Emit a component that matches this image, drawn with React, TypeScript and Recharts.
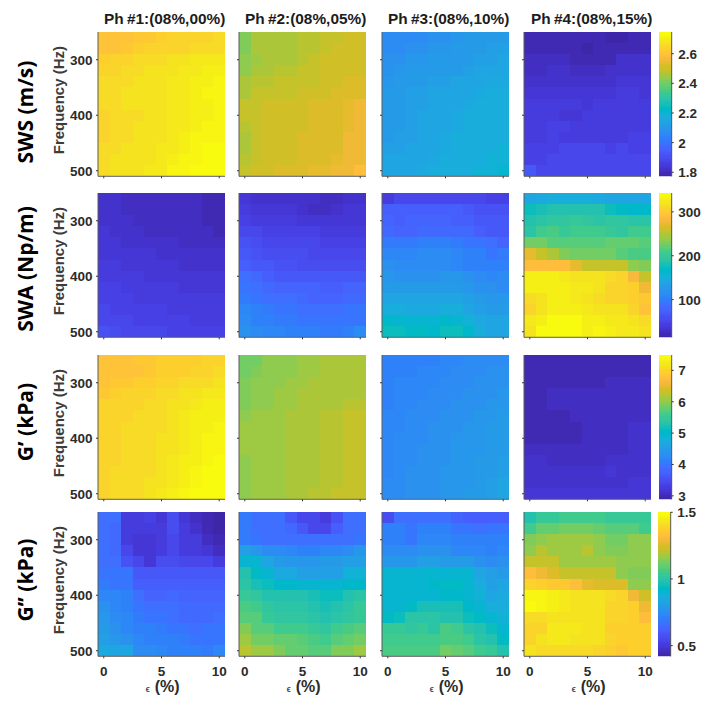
import React from 'react';
import { ScatterChart, Scatter, XAxis, YAxis, Label } from 'recharts';

// axes shared by all panels
const strains = [0, 1, 2, 3, 4, 5, 6, 7, 8, 9, 10];
const frequencies = [260, 280, 300, 320, 340, 360, 380, 400, 420, 440, 460, 480, 500];
const strainTicks = [0, 5, 10];
const freqTicks = [300, 400, 500];

const titles = ['Ph #1:(08%,00%)', 'Ph #2:(08%,05%)', 'Ph #3:(08%,10%)', 'Ph #4:(08%,15%)'];
const rowLabels = ['SWS (m/s)', 'SWA (Np/m)', 'G’ (kPa)', 'G’’ (kPa)'];

// colour limits + colorbar ticks per row
const limits = [[1.773, 2.746], [14, 343], [2.89, 7.49], [0.42, 1.502]];
const barTicks = [[1.8, 2, 2.2, 2.4, 2.6], [100, 200, 300], [3, 4, 5, 6, 7], [0.5, 1, 1.5]];

// SWS (m/s)
const swsPh1 = [
  [2.60, 2.60, 2.60, 2.61, 2.61, 2.63, 2.64, 2.65, 2.65, 2.65, 2.66],
  [2.60, 2.60, 2.61, 2.63, 2.64, 2.64, 2.65, 2.65, 2.66, 2.66, 2.66],
  [2.63, 2.64, 2.65, 2.66, 2.66, 2.66, 2.67, 2.68, 2.69, 2.69, 2.69],
  [2.64, 2.65, 2.66, 2.66, 2.67, 2.67, 2.68, 2.69, 2.70, 2.71, 2.71],
  [2.66, 2.66, 2.66, 2.67, 2.67, 2.68, 2.69, 2.70, 2.71, 2.71, 2.72],
  [2.66, 2.66, 2.67, 2.67, 2.67, 2.68, 2.69, 2.70, 2.71, 2.72, 2.72],
  [2.66, 2.66, 2.67, 2.67, 2.68, 2.68, 2.69, 2.70, 2.71, 2.71, 2.72],
  [2.65, 2.66, 2.66, 2.66, 2.67, 2.68, 2.69, 2.70, 2.71, 2.71, 2.72],
  [2.65, 2.66, 2.66, 2.67, 2.67, 2.68, 2.69, 2.70, 2.71, 2.72, 2.73],
  [2.65, 2.66, 2.66, 2.67, 2.67, 2.68, 2.70, 2.71, 2.72, 2.73, 2.73],
  [2.66, 2.66, 2.67, 2.67, 2.68, 2.69, 2.70, 2.71, 2.72, 2.74, 2.74],
  [2.66, 2.67, 2.67, 2.68, 2.68, 2.69, 2.71, 2.72, 2.73, 2.74, 2.745],
  [2.66, 2.67, 2.67, 2.68, 2.69, 2.70, 2.72, 2.73, 2.74, 2.745, 2.745],
];
const swsPh2 = [
  [2.42, 2.46, 2.46, 2.46, 2.46, 2.48, 2.48, 2.50, 2.50, 2.51, 2.51],
  [2.42, 2.46, 2.46, 2.46, 2.47, 2.48, 2.48, 2.49, 2.51, 2.51, 2.51],
  [2.44, 2.45, 2.46, 2.46, 2.47, 2.48, 2.49, 2.51, 2.51, 2.51, 2.51],
  [2.44, 2.46, 2.47, 2.48, 2.48, 2.49, 2.49, 2.51, 2.51, 2.51, 2.51],
  [2.46, 2.48, 2.48, 2.49, 2.49, 2.50, 2.50, 2.51, 2.51, 2.52, 2.52],
  [2.47, 2.49, 2.49, 2.50, 2.50, 2.51, 2.51, 2.51, 2.52, 2.53, 2.53],
  [2.49, 2.50, 2.51, 2.51, 2.51, 2.51, 2.52, 2.52, 2.52, 2.54, 2.55],
  [2.49, 2.50, 2.51, 2.51, 2.51, 2.51, 2.52, 2.52, 2.52, 2.54, 2.55],
  [2.48, 2.50, 2.51, 2.51, 2.51, 2.51, 2.52, 2.52, 2.53, 2.54, 2.55],
  [2.47, 2.50, 2.51, 2.51, 2.51, 2.52, 2.52, 2.52, 2.53, 2.55, 2.55],
  [2.47, 2.50, 2.51, 2.51, 2.51, 2.52, 2.52, 2.52, 2.53, 2.55, 2.56],
  [2.48, 2.50, 2.51, 2.51, 2.51, 2.52, 2.52, 2.53, 2.54, 2.55, 2.56],
  [2.50, 2.51, 2.51, 2.52, 2.52, 2.53, 2.54, 2.54, 2.55, 2.56, 2.58],
];
const swsPh3 = [
  [2.07, 2.07, 2.07, 2.07, 2.09, 2.09, 2.10, 2.11, 2.12, 2.12, 2.12],
  [2.07, 2.07, 2.08, 2.09, 2.10, 2.10, 2.11, 2.12, 2.12, 2.13, 2.13],
  [2.08, 2.09, 2.10, 2.10, 2.11, 2.11, 2.12, 2.12, 2.13, 2.13, 2.14],
  [2.09, 2.10, 2.11, 2.11, 2.12, 2.12, 2.12, 2.13, 2.14, 2.14, 2.15],
  [2.10, 2.11, 2.12, 2.12, 2.13, 2.13, 2.14, 2.14, 2.15, 2.16, 2.16],
  [2.11, 2.12, 2.13, 2.13, 2.14, 2.14, 2.15, 2.15, 2.16, 2.17, 2.17],
  [2.11, 2.12, 2.13, 2.13, 2.14, 2.15, 2.15, 2.16, 2.17, 2.17, 2.18],
  [2.11, 2.12, 2.13, 2.14, 2.14, 2.15, 2.16, 2.17, 2.17, 2.18, 2.18],
  [2.12, 2.12, 2.13, 2.14, 2.15, 2.15, 2.16, 2.17, 2.18, 2.18, 2.18],
  [2.12, 2.13, 2.13, 2.14, 2.15, 2.16, 2.17, 2.17, 2.18, 2.18, 2.18],
  [2.13, 2.13, 2.14, 2.15, 2.15, 2.16, 2.17, 2.18, 2.18, 2.18, 2.19],
  [2.14, 2.14, 2.15, 2.15, 2.16, 2.17, 2.18, 2.18, 2.18, 2.19, 2.19],
  [2.14, 2.14, 2.15, 2.16, 2.17, 2.17, 2.18, 2.18, 2.19, 2.19, 2.21],
];
const swsPh4 = [
  [1.79, 1.79, 1.79, 1.79, 1.79, 1.79, 1.79, 1.78, 1.78, 1.79, 1.79],
  [1.79, 1.79, 1.79, 1.79, 1.80, 1.78, 1.79, 1.79, 1.80, 1.80, 1.80],
  [1.81, 1.81, 1.81, 1.81, 1.80, 1.80, 1.80, 1.80, 1.82, 1.82, 1.82],
  [1.81, 1.81, 1.82, 1.83, 1.81, 1.81, 1.81, 1.82, 1.83, 1.83, 1.83],
  [1.82, 1.82, 1.83, 1.82, 1.83, 1.82, 1.82, 1.83, 1.84, 1.84, 1.84],
  [1.84, 1.84, 1.84, 1.84, 1.84, 1.84, 1.84, 1.84, 1.85, 1.85, 1.84],
  [1.85, 1.85, 1.85, 1.85, 1.85, 1.84, 1.85, 1.85, 1.85, 1.86, 1.86],
  [1.85, 1.85, 1.85, 1.84, 1.84, 1.85, 1.85, 1.86, 1.86, 1.86, 1.86],
  [1.86, 1.85, 1.87, 1.87, 1.85, 1.85, 1.85, 1.85, 1.86, 1.86, 1.86],
  [1.86, 1.85, 1.87, 1.86, 1.86, 1.86, 1.86, 1.86, 1.86, 1.87, 1.87],
  [1.87, 1.87, 1.87, 1.88, 1.88, 1.88, 1.88, 1.87, 1.88, 1.87, 1.87],
  [1.87, 1.87, 1.89, 1.88, 1.88, 1.88, 1.88, 1.88, 1.88, 1.88, 1.88],
  [1.93, 1.88, 1.88, 1.88, 1.88, 1.88, 1.88, 1.88, 1.88, 1.88, 1.89],
];

// SWA (Np/m)
const swaPh1 = [
  [31, 30, 29, 29, 28, 27, 27, 26, 25, 24, 24],
  [32, 30, 29, 28, 28, 27, 27, 26, 25, 24, 23],
  [33, 31, 30, 29, 28, 27, 27, 26, 25, 24, 21],
  [35, 33, 32, 30, 29, 28, 28, 27, 26, 25, 24],
  [37, 35, 34, 33, 32, 31, 30, 29, 28, 28, 27],
  [39, 38, 36, 36, 35, 34, 33, 32, 31, 31, 31],
  [41, 40, 39, 38, 37, 36, 35, 34, 33, 33, 32],
  [43, 42, 41, 40, 39, 38, 37, 36, 36, 35, 35],
  [46, 45, 44, 42, 42, 41, 40, 39, 38, 37, 37],
  [48, 47, 46, 44, 44, 43, 42, 42, 40, 40, 40],
  [51, 49, 48, 47, 46, 45, 44, 44, 42, 42, 42],
  [55, 52, 50, 49, 48, 47, 46, 46, 44, 44, 44],
  [62, 58, 55, 53, 52, 50, 48, 47, 47, 46, 46],
];
const swaPh2 = [
  [38, 34, 33, 33, 33, 30, 30, 27, 29, 32, 32],
  [42, 37, 35, 35, 35, 31, 27, 27, 33, 35, 35],
  [46, 42, 40, 40, 40, 38, 37, 37, 38, 38, 38],
  [52, 50, 46, 46, 46, 45, 45, 44, 44, 44, 43],
  [62, 56, 52, 52, 52, 50, 50, 47, 47, 47, 47],
  [68, 62, 60, 56, 56, 56, 54, 52, 52, 55, 55],
  [74, 68, 66, 64, 62, 60, 60, 60, 58, 60, 60],
  [90, 84, 72, 70, 70, 68, 68, 66, 66, 66, 70],
  [95, 90, 84, 80, 78, 76, 76, 72, 72, 80, 80],
  [100, 96, 90, 88, 86, 82, 80, 76, 80, 84, 84],
  [108, 104, 98, 96, 92, 90, 88, 86, 90, 92, 96],
  [112, 106, 102, 100, 100, 96, 92, 92, 94, 96, 96],
  [118, 112, 108, 108, 104, 104, 104, 100, 100, 106, 112],
];
const swaPh3 = [
  [44, 55, 55, 55, 55, 55, 55, 50, 50, 48, 48],
  [72, 72, 72, 72, 72, 72, 72, 70, 62, 62, 62],
  [76, 72, 76, 76, 76, 76, 74, 74, 66, 66, 66],
  [85, 76, 76, 85, 85, 85, 85, 85, 74, 70, 70],
  [100, 100, 100, 102, 102, 102, 98, 94, 94, 86, 80],
  [110, 110, 110, 112, 112, 112, 108, 104, 104, 96, 100],
  [118, 112, 112, 114, 114, 114, 110, 106, 106, 102, 106],
  [122, 118, 118, 118, 118, 124, 126, 120, 116, 108, 114],
  [128, 128, 132, 132, 132, 130, 130, 126, 120, 118, 116],
  [138, 138, 138, 142, 142, 142, 138, 134, 130, 126, 126],
  [148, 148, 146, 146, 146, 150, 148, 142, 136, 132, 132],
  [164, 162, 162, 162, 158, 166, 162, 154, 146, 138, 138],
  [178, 176, 170, 170, 166, 178, 174, 166, 152, 142, 140],
];
const swaPh4 = [
  [142, 146, 150, 150, 150, 148, 146, 140, 140, 142, 142],
  [178, 182, 186, 186, 188, 186, 184, 178, 172, 168, 168],
  [186, 192, 196, 196, 200, 198, 192, 194, 194, 190, 190],
  [190, 208, 210, 204, 206, 206, 206, 200, 198, 208, 208],
  [226, 226, 218, 218, 218, 218, 218, 222, 222, 220, 216],
  [274, 258, 250, 232, 226, 226, 226, 226, 218, 214, 210],
  [290, 288, 288, 288, 272, 258, 258, 258, 258, 236, 234],
  [330, 332, 330, 326, 322, 322, 318, 314, 310, 282, 258],
  [330, 332, 332, 328, 326, 324, 318, 312, 310, 304, 280],
  [315, 322, 328, 328, 324, 322, 316, 312, 310, 304, 298],
  [312, 318, 330, 332, 330, 326, 320, 320, 318, 310, 296],
  [325, 330, 338, 340, 340, 332, 330, 326, 326, 322, 316],
  [322, 338, 338, 340, 340, 332, 336, 328, 326, 326, 318],
];

// G' (kPa)
const gpPh1 = [
  [6.80, 6.82, 6.84, 6.86, 6.88, 6.92, 6.94, 6.96, 6.98, 7.00, 7.02],
  [6.80, 6.80, 6.82, 6.84, 6.88, 6.92, 6.96, 6.98, 7.00, 7.02, 7.06],
  [6.84, 6.88, 6.90, 6.92, 6.96, 7.00, 7.04, 7.06, 7.10, 7.12, 7.14],
  [6.90, 6.96, 7.00, 7.02, 7.04, 7.06, 7.10, 7.14, 7.18, 7.24, 7.26],
  [7.00, 7.02, 7.04, 7.04, 7.06, 7.08, 7.14, 7.18, 7.24, 7.30, 7.32],
  [7.02, 7.02, 7.04, 7.06, 7.08, 7.12, 7.16, 7.22, 7.28, 7.32, 7.34],
  [7.02, 7.04, 7.06, 7.06, 7.10, 7.12, 7.16, 7.22, 7.30, 7.34, 7.36],
  [7.04, 7.04, 7.06, 7.08, 7.10, 7.14, 7.18, 7.24, 7.30, 7.36, 7.38],
  [7.04, 7.04, 7.06, 7.08, 7.12, 7.14, 7.20, 7.26, 7.32, 7.38, 7.40],
  [7.04, 7.04, 7.06, 7.08, 7.12, 7.16, 7.22, 7.28, 7.34, 7.40, 7.42],
  [7.04, 7.06, 7.08, 7.10, 7.12, 7.18, 7.24, 7.30, 7.36, 7.42, 7.44],
  [7.02, 7.06, 7.08, 7.10, 7.14, 7.20, 7.26, 7.34, 7.40, 7.46, 7.48],
  [7.04, 7.06, 7.08, 7.12, 7.16, 7.22, 7.30, 7.36, 7.42, 7.48, 7.485],
];
const gpPh2 = [
  [5.88, 5.90, 6.00, 6.00, 6.00, 6.06, 6.06, 6.14, 6.14, 6.17, 6.17],
  [5.90, 5.98, 6.00, 6.00, 6.04, 6.06, 6.06, 6.14, 6.14, 6.17, 6.17],
  [5.96, 6.00, 6.00, 6.03, 6.07, 6.07, 6.14, 6.14, 6.16, 6.18, 6.18],
  [5.97, 6.00, 6.00, 6.06, 6.10, 6.14, 6.16, 6.16, 6.18, 6.19, 6.19],
  [5.97, 6.02, 6.05, 6.06, 6.11, 6.14, 6.17, 6.18, 6.19, 6.21, 6.25],
  [6.05, 6.06, 6.06, 6.11, 6.13, 6.15, 6.18, 6.20, 6.22, 6.29, 6.29],
  [6.06, 6.08, 6.11, 6.12, 6.13, 6.17, 6.18, 6.22, 6.24, 6.31, 6.32],
  [6.06, 6.08, 6.12, 6.12, 6.13, 6.17, 6.18, 6.22, 6.24, 6.32, 6.32],
  [6.06, 6.08, 6.12, 6.12, 6.13, 6.17, 6.18, 6.22, 6.24, 6.32, 6.32],
  [6.05, 6.10, 6.12, 6.12, 6.13, 6.17, 6.18, 6.22, 6.24, 6.32, 6.32],
  [6.05, 6.10, 6.12, 6.12, 6.13, 6.17, 6.18, 6.22, 6.24, 6.32, 6.33],
  [6.05, 6.10, 6.12, 6.12, 6.13, 6.17, 6.18, 6.22, 6.24, 6.32, 6.33],
  [6.05, 6.10, 6.12, 6.12, 6.13, 6.18, 6.24, 6.26, 6.28, 6.33, 6.33],
];
const gpPh3 = [
  [4.12, 4.12, 4.12, 4.15, 4.17, 4.22, 4.22, 4.27, 4.29, 4.32, 4.32],
  [4.12, 4.15, 4.17, 4.19, 4.22, 4.24, 4.27, 4.29, 4.32, 4.35, 4.35],
  [4.12, 4.19, 4.20, 4.22, 4.24, 4.27, 4.29, 4.32, 4.35, 4.37, 4.37],
  [4.15, 4.20, 4.22, 4.24, 4.27, 4.29, 4.32, 4.35, 4.37, 4.39, 4.41],
  [4.17, 4.21, 4.24, 4.27, 4.29, 4.31, 4.34, 4.37, 4.39, 4.43, 4.45],
  [4.19, 4.24, 4.27, 4.29, 4.31, 4.33, 4.37, 4.39, 4.43, 4.47, 4.49],
  [4.20, 4.25, 4.29, 4.31, 4.33, 4.37, 4.39, 4.42, 4.45, 4.49, 4.51],
  [4.22, 4.27, 4.30, 4.32, 4.35, 4.37, 4.40, 4.43, 4.47, 4.49, 4.52],
  [4.22, 4.27, 4.32, 4.34, 4.37, 4.39, 4.42, 4.45, 4.47, 4.51, 4.53],
  [4.23, 4.29, 4.32, 4.35, 4.37, 4.39, 4.42, 4.45, 4.49, 4.52, 4.55],
  [4.25, 4.29, 4.33, 4.35, 4.37, 4.41, 4.43, 4.47, 4.49, 4.53, 4.57],
  [4.27, 4.31, 4.33, 4.37, 4.39, 4.41, 4.45, 4.47, 4.51, 4.57, 4.62],
  [4.27, 4.31, 4.35, 4.37, 4.39, 4.43, 4.45, 4.49, 4.53, 4.59, 4.67],
];
const gpPh4 = [
  [2.99, 2.99, 2.99, 2.99, 2.99, 2.99, 2.99, 2.99, 2.99, 2.99, 2.99],
  [3.00, 3.00, 3.00, 3.00, 3.00, 3.00, 3.00, 3.00, 3.00, 3.00, 3.00],
  [3.00, 3.00, 3.00, 3.00, 3.00, 3.00, 3.00, 3.05, 3.05, 3.05, 3.05],
  [3.01, 3.01, 3.07, 3.08, 3.08, 3.08, 3.08, 3.08, 3.07, 3.07, 3.07],
  [3.01, 3.01, 3.07, 3.08, 3.08, 3.08, 3.08, 3.08, 3.08, 3.08, 3.08],
  [3.01, 3.01, 3.01, 3.01, 3.07, 3.07, 3.07, 3.07, 3.08, 3.09, 3.09],
  [3.00, 3.00, 3.00, 3.00, 3.01, 3.06, 3.06, 3.06, 3.08, 3.12, 3.12],
  [3.00, 3.00, 3.00, 3.00, 3.00, 3.05, 3.06, 3.06, 3.08, 3.12, 3.12],
  [3.05, 3.05, 3.05, 3.05, 3.05, 3.05, 3.05, 3.05, 3.09, 3.11, 3.12],
  [3.14, 3.14, 3.10, 3.10, 3.10, 3.10, 3.10, 3.12, 3.12, 3.12, 3.12],
  [3.17, 3.14, 3.14, 3.14, 3.14, 3.14, 3.14, 3.19, 3.14, 3.15, 3.15],
  [3.17, 3.17, 3.17, 3.17, 3.17, 3.17, 3.17, 3.17, 3.17, 3.19, 3.19],
  [3.18, 3.18, 3.18, 3.18, 3.18, 3.18, 3.18, 3.22, 3.22, 3.22, 3.22],
];

// G'' (kPa)
const gppPh1 = [
  [0.66, 0.66, 0.52, 0.52, 0.53, 0.50, 0.56, 0.49, 0.46, 0.44, 0.42],
  [0.67, 0.65, 0.52, 0.51, 0.52, 0.52, 0.56, 0.51, 0.48, 0.44, 0.43],
  [0.67, 0.65, 0.52, 0.50, 0.50, 0.52, 0.54, 0.52, 0.52, 0.47, 0.45],
  [0.67, 0.65, 0.54, 0.50, 0.50, 0.51, 0.54, 0.52, 0.51, 0.49, 0.46],
  [0.67, 0.66, 0.58, 0.54, 0.50, 0.56, 0.56, 0.54, 0.54, 0.54, 0.52],
  [0.69, 0.68, 0.68, 0.59, 0.59, 0.59, 0.59, 0.59, 0.59, 0.59, 0.59],
  [0.70, 0.69, 0.68, 0.62, 0.62, 0.62, 0.62, 0.61, 0.61, 0.61, 0.61],
  [0.74, 0.74, 0.71, 0.66, 0.63, 0.63, 0.64, 0.63, 0.63, 0.63, 0.63],
  [0.77, 0.74, 0.71, 0.69, 0.67, 0.67, 0.66, 0.65, 0.64, 0.64, 0.64],
  [0.78, 0.75, 0.73, 0.70, 0.69, 0.68, 0.66, 0.64, 0.64, 0.64, 0.66],
  [0.80, 0.77, 0.74, 0.72, 0.71, 0.70, 0.69, 0.68, 0.67, 0.68, 0.68],
  [0.81, 0.79, 0.77, 0.73, 0.71, 0.71, 0.71, 0.70, 0.69, 0.69, 0.69],
  [0.85, 0.84, 0.84, 0.75, 0.75, 0.73, 0.71, 0.71, 0.71, 0.70, 0.73],
];
const gppPh2 = [
  [0.70, 0.67, 0.66, 0.66, 0.60, 0.55, 0.55, 0.52, 0.58, 0.66, 0.66],
  [0.70, 0.67, 0.66, 0.66, 0.65, 0.60, 0.54, 0.54, 0.62, 0.66, 0.66],
  [0.70, 0.69, 0.66, 0.66, 0.66, 0.66, 0.66, 0.66, 0.66, 0.67, 0.69],
  [0.82, 0.79, 0.75, 0.75, 0.74, 0.72, 0.72, 0.74, 0.74, 0.75, 0.78],
  [0.91, 0.90, 0.83, 0.80, 0.78, 0.78, 0.78, 0.80, 0.80, 0.82, 0.82],
  [0.98, 0.94, 0.90, 0.85, 0.85, 0.82, 0.82, 0.82, 0.82, 0.88, 0.88],
  [1.00, 0.97, 0.95, 0.92, 0.92, 0.90, 0.90, 0.90, 0.90, 0.92, 0.92],
  [1.04, 1.02, 0.99, 0.99, 0.98, 0.98, 0.97, 0.95, 0.96, 0.98, 1.00],
  [1.07, 1.05, 1.02, 1.01, 1.01, 1.01, 0.99, 0.97, 0.99, 1.01, 1.03],
  [1.09, 1.08, 1.04, 1.02, 1.02, 1.02, 1.01, 0.99, 1.01, 1.02, 1.04],
  [1.14, 1.08, 1.08, 1.06, 1.06, 1.06, 1.04, 1.02, 1.05, 1.07, 1.08],
  [1.17, 1.13, 1.13, 1.11, 1.11, 1.08, 1.07, 1.05, 1.08, 1.10, 1.12],
  [1.20, 1.18, 1.18, 1.14, 1.11, 1.11, 1.09, 1.09, 1.14, 1.14, 1.18],
];
const gppPh3 = [
  [0.57, 0.67, 0.67, 0.67, 0.67, 0.67, 0.63, 0.62, 0.62, 0.62, 0.62],
  [0.71, 0.71, 0.68, 0.71, 0.71, 0.71, 0.69, 0.69, 0.67, 0.69, 0.69],
  [0.72, 0.72, 0.69, 0.73, 0.73, 0.73, 0.71, 0.71, 0.71, 0.71, 0.71],
  [0.75, 0.75, 0.75, 0.76, 0.76, 0.76, 0.73, 0.73, 0.73, 0.71, 0.73],
  [0.78, 0.78, 0.78, 0.81, 0.81, 0.80, 0.80, 0.80, 0.76, 0.75, 0.77],
  [0.90, 0.90, 0.90, 0.90, 0.90, 0.90, 0.90, 0.90, 0.83, 0.81, 0.80],
  [0.91, 0.90, 0.90, 0.90, 0.92, 0.93, 0.93, 0.90, 0.87, 0.82, 0.83],
  [0.91, 0.90, 0.91, 0.91, 0.90, 0.92, 0.92, 0.90, 0.89, 0.83, 0.85],
  [0.90, 0.90, 0.93, 0.97, 0.97, 0.97, 0.97, 0.92, 0.91, 0.87, 0.87],
  [0.93, 0.95, 1.00, 1.00, 1.00, 0.98, 0.98, 0.96, 0.93, 0.91, 0.89],
  [1.04, 1.04, 1.02, 1.03, 1.01, 1.07, 1.05, 1.01, 0.99, 0.96, 0.91],
  [1.06, 1.06, 1.06, 1.06, 1.06, 1.07, 1.07, 1.05, 1.01, 0.98, 0.93],
  [1.07, 1.07, 1.07, 1.07, 1.07, 1.13, 1.10, 1.09, 1.05, 1.03, 0.99],
];
const gppPh4 = [
  [0.99, 1.03, 1.04, 1.05, 1.06, 1.06, 1.06, 1.03, 1.03, 1.03, 1.03],
  [1.05, 1.11, 1.11, 1.13, 1.13, 1.13, 1.11, 1.08, 1.08, 1.08, 1.06],
  [1.14, 1.15, 1.17, 1.17, 1.17, 1.17, 1.15, 1.13, 1.13, 1.15, 1.15],
  [1.15, 1.20, 1.17, 1.17, 1.17, 1.20, 1.16, 1.14, 1.14, 1.16, 1.16],
  [1.23, 1.23, 1.23, 1.18, 1.18, 1.18, 1.18, 1.17, 1.15, 1.16, 1.16],
  [1.33, 1.29, 1.26, 1.22, 1.22, 1.22, 1.22, 1.22, 1.15, 1.14, 1.14],
  [1.39, 1.37, 1.35, 1.35, 1.32, 1.27, 1.26, 1.26, 1.26, 1.15, 1.15],
  [1.48, 1.47, 1.46, 1.44, 1.43, 1.43, 1.42, 1.41, 1.40, 1.29, 1.24],
  [1.49, 1.47, 1.46, 1.44, 1.43, 1.43, 1.42, 1.40, 1.40, 1.37, 1.29],
  [1.41, 1.41, 1.43, 1.43, 1.43, 1.42, 1.42, 1.39, 1.39, 1.38, 1.33],
  [1.40, 1.40, 1.44, 1.44, 1.44, 1.43, 1.42, 1.38, 1.38, 1.38, 1.38],
  [1.40, 1.42, 1.44, 1.44, 1.43, 1.43, 1.43, 1.39, 1.38, 1.38, 1.38],
  [1.43, 1.41, 1.41, 1.41, 1.41, 1.41, 1.39, 1.38, 1.36, 1.38, 1.38],
];

const grid = [
  [swsPh1, swsPh2, swsPh3, swsPh4],
  [swaPh1, swaPh2, swaPh3, swaPh4],
  [gpPh1, gpPh2, gpPh3, gpPh4],
  [gppPh1, gppPh2, gppPh3, gppPh4],
];

// parula(64)
const parula = [
  [.2422, .1504, .6603], [.2504, .1650, .7076], [.2578, .1818, .7511], [.2647, .1978, .7952],
  [.2706, .2147, .8364], [.2751, .2342, .8710], [.2783, .2559, .8991], [.2803, .2782, .9221],
  [.2813, .3006, .9414], [.2810, .3228, .9579], [.2795, .3447, .9717], [.2760, .3667, .9829],
  [.2699, .3892, .9906], [.2602, .4123, .9952], [.2440, .4358, .9988], [.2206, .4603, .9973],
  [.1963, .4847, .9892], [.1834, .5074, .9798], [.1786, .5289, .9682], [.1764, .5499, .9520],
  [.1687, .5703, .9359], [.1540, .5902, .9218], [.1460, .6091, .9079], [.1380, .6276, .8973],
  [.1248, .6459, .8883], [.1113, .6635, .8763], [.0952, .6798, .8598], [.0689, .6948, .8394],
  [.0297, .7082, .8163], [.0036, .7203, .7917], [.0067, .7312, .7660], [.0433, .7411, .7394],
  [.0964, .7500, .7120], [.1408, .7584, .6842], [.1717, .7670, .6554], [.1938, .7758, .6251],
  [.2161, .7843, .5923], [.2470, .7918, .5567], [.2906, .7973, .5188], [.3406, .8008, .4789],
  [.3909, .8029, .4354], [.4456, .8024, .3909], [.5044, .7993, .3480], [.5616, .7942, .3045],
  [.6174, .7876, .2612], [.6720, .7793, .2227], [.7242, .7698, .1910], [.7738, .7598, .1646],
  [.8203, .7498, .1535], [.8634, .7406, .1596], [.9035, .7330, .1774], [.9393, .7288, .2100],
  [.9728, .7298, .2394], [.9956, .7434, .2371], [.9970, .7659, .2199], [.9952, .7861, .1990],
  [.9892, .8106, .1778], [.9786, .8310, .1660], [.9676, .8600, .1490], [.9610, .8890, .1240],
  [.9597, .9135, .1050], [.9628, .9373, .0880], [.9691, .9606, .0666], [.9769, .9839, .0538],
];

const colorAt = (t: number) => {
  const i = Math.max(0, Math.min(parula.length - 1, Math.floor(t * parula.length)));
  const c = parula[i].map(v => Math.round(v * 255));
  return `rgb(${c[0]},${c[1]},${c[2]})`;
};

// layout
const colLefts = [97.7, 239, 381.7, 524];
const rowTops = [31.7, 193.3, 354.7, 512.3];
const panelW = 127;
const panelH = 144.3;
const cellW = panelW / strains.length;
const cellH = panelH / frequencies.length;
const axisGap = 60;
const bottomGap = 42;
const frame = '#5a5a5a';
const inkColor = '#2b2b2b';
const arial = '"Liberation Sans", Arial, sans-serif';

const HeatCell = (props: any) => {
  const { cx, cy, payload, min, max } = props;
  return (
    <rect
      x={cx - cellW / 2}
      y={cy - cellH / 2}
      width={cellW}
      height={cellH}
      shapeRendering="crispEdges"
      fill={colorAt((payload.value - min) / (max - min))}
    />
  );
};

const Panel = ({ row, col }: { row: number; col: number }) => {
  const rows = grid[row][col];
  const [min, max] = limits[row];
  const showY = col === 0;
  const showX = row === 3;
  const cells = frequencies.flatMap((freq, r) =>
    strains.map((strain, c) => ({ strain, freq, value: rows[r][c] }))
  );
  const chartSize = { width: axisGap + panelW + 4, height: panelH + bottomGap + 2 };
  const chartMargin = { top: 2, right: 4, bottom: 0, left: 0 };
  const box: React.CSSProperties = { position: 'absolute', left: colLefts[col] - axisGap, top: rowTops[row] - 2 };

  const xTick = (labelled: boolean, dir: number) => (p: any) => (
    <g>
      <line x1={p.x} x2={p.x} y1={p.y} y2={p.y + dir * 2} stroke="#333" />
      {labelled && (
        <text x={p.x} y={p.y + 17.5} textAnchor="middle" fontFamily={arial} fontWeight="bold" fontSize={13.5} fill={inkColor}>
          {p.payload.value}
        </text>
      )}
    </g>
  );
  const yTick = (labelled: boolean, dir: number) => (p: any) => (
    <g>
      <line x1={p.x} x2={p.x + dir * 2} y1={p.y} y2={p.y} stroke="#333" />
      {labelled && (
        <text x={p.x - 3.5} y={p.y + 5} textAnchor="end" fontFamily={arial} fontWeight="bold" fontSize={13.5} fill={inkColor}>
          {p.payload.value}
        </text>
      )}
    </g>
  );

  return (
    <>
      {/* cells underneath */}
      <div style={box}>
        <ScatterChart {...chartSize} margin={chartMargin}>
          <XAxis xAxisId="b" type="number" dataKey="strain" domain={[-0.5, 10.5]} height={bottomGap} axisLine={false} tickLine={false} tick={false} allowDataOverflow />
          <YAxis yAxisId="l" type="number" dataKey="freq" reversed domain={[250, 510]} width={axisGap} axisLine={false} tickLine={false} tick={false} allowDataOverflow />
          <Scatter
            data={cells}
            xAxisId="b"
            yAxisId="l"
            dataKey="value"
            isAnimationActive={false}
            shape={(p: any) => <HeatCell {...p} min={min} max={max} />}
          />
        </ScatterChart>
      </div>
      {/* box and ticks on top, as in matlab */}
      <div style={box}>
        <ScatterChart {...chartSize} margin={chartMargin}>
          <XAxis
            xAxisId="b"
            type="number"
            dataKey="strain"
            domain={[-0.5, 10.5]}
            ticks={strainTicks}
            height={bottomGap}
            stroke={frame}
            tickLine={false}
            tickSize={0}
            tick={xTick(showX, -1)}
            interval={0}
            allowDataOverflow
          >
            {showX && (
              <Label
                content={(p: any) => (
                  <text x={p.viewBox.x + p.viewBox.width / 2 - 16} y={panelH + 38} fontFamily={arial} fontWeight="bold" fill={inkColor}>
                    <tspan fontSize={9} fill="#555">ϵ</tspan>
                    <tspan dx={5} fontSize={16}>(%)</tspan>
                  </text>
                )}
              />
            )}
          </XAxis>
          <XAxis xAxisId="t" orientation="top" type="number" dataKey="strain" domain={[-0.5, 10.5]} ticks={strainTicks} height={0} stroke={frame} tickLine={false} tickSize={0} tick={xTick(false, 1)} interval={0} allowDataOverflow />
          <YAxis
            yAxisId="l"
            type="number"
            dataKey="freq"
            reversed
            domain={[250, 510]}
            ticks={freqTicks}
            width={axisGap}
            stroke={frame}
            tickLine={false}
            tickSize={0}
            tick={yTick(showY, 1)}
            interval={0}
            allowDataOverflow
          >
            {showY && (
              <Label
                content={(p: any) => {
                  const cy = p.viewBox.y + p.viewBox.height / 2 - 4;
                  return (
                    <text x={26} y={cy} transform={`rotate(-90 26 ${cy})`} textAnchor="middle" fontFamily={arial} fontWeight="bold" fontSize={15} fill="#3c3c3c">
                      Frequency (Hz)
                    </text>
                  );
                }}
              />
            )}
          </YAxis>
          <YAxis yAxisId="r" orientation="right" type="number" dataKey="freq" reversed domain={[250, 510]} ticks={freqTicks} width={0} stroke={frame} tickLine={false} tickSize={0} tick={yTick(false, -1)} interval={0} allowDataOverflow />
          {/* invisible series so the axes have data to work from */}
          <Scatter data={cells} xAxisId="b" yAxisId="l" dataKey="value" isAnimationActive={false} shape={() => null} />
          <Scatter data={cells} xAxisId="t" yAxisId="r" dataKey="value" isAnimationActive={false} shape={() => null} />
        </ScatterChart>
      </div>
    </>
  );
};

const Colorbar = ({ row }: { row: number }) => {
  const [min, max] = limits[row];
  const left = row === 3 ? 658 : 659.3;
  const barW = 12.7;
  const gutter = 42;
  const levels = parula.map((_, i) => ({ x: 0.5, y: min + ((i + 0.5) / parula.length) * (max - min), t: (i + 0.5) / parula.length }));
  const box: React.CSSProperties = { position: 'absolute', left, top: rowTops[row] - 8 };
  const size = { width: barW + gutter + 1, height: panelH + 16 };
  const margin = { top: 8, right: 1, bottom: 8, left: 0 };
  const levelH = panelH / parula.length;
  return (
    <>
      <div style={box}>
        <ScatterChart {...size} margin={margin}>
          <XAxis xAxisId="x" type="number" dataKey="x" domain={[0, 1]} height={0} axisLine={false} tickLine={false} tick={false} />
          <YAxis yAxisId="y" orientation="right" type="number" dataKey="y" domain={[min, max]} width={gutter} axisLine={false} tickLine={false} tick={false} allowDataOverflow />
          <Scatter
            data={levels}
            xAxisId="x"
            yAxisId="y"
            dataKey="t"
            isAnimationActive={false}
            shape={(p: any) => (
              <rect x={p.cx - barW / 2} y={p.cy - levelH / 2} width={barW} height={levelH + 0.5} fill={colorAt(p.payload.t)} shapeRendering="crispEdges" />
            )}
          />
        </ScatterChart>
      </div>
      <div style={box}>
        <ScatterChart {...size} margin={margin}>
          <XAxis xAxisId="x" type="number" dataKey="x" domain={[0, 1]} ticks={[]} height={0} stroke={frame} tickLine={false} tick={false} />
          <XAxis xAxisId="x2" orientation="top" type="number" dataKey="x" domain={[0, 1]} ticks={[]} height={0} stroke={frame} tickLine={false} tick={false} />
          <YAxis yAxisId="y2" type="number" dataKey="y" domain={[min, max]} ticks={[]} width={0} stroke={frame} tickLine={false} tick={false} allowDataOverflow />
          <YAxis
            yAxisId="y"
            orientation="right"
            type="number"
            dataKey="y"
            domain={[min, max]}
            ticks={barTicks[row]}
            width={gutter}
            stroke={frame}
            tickLine={false}
            tickSize={0}
            interval={0}
            allowDataOverflow
            tick={(p: any) => (
              <g>
                <line x1={p.x - 2} x2={p.x} y1={p.y} y2={p.y} stroke="#333" />
                <text x={p.x + 4.5} y={p.y + 5} fontFamily={arial} fontWeight="bold" fontSize={13.5} fill={inkColor}>
                  {p.payload.value}
                </text>
              </g>
            )}
          />
          <Scatter data={levels} xAxisId="x" yAxisId="y" dataKey="t" isAnimationActive={false} shape={() => null} />
          <Scatter data={levels} xAxisId="x2" yAxisId="y2" dataKey="t" isAnimationActive={false} shape={() => null} />
        </ScatterChart>
      </div>
    </>
  );
};

const rowLabelCenters = [111.5, 269, 422, 580];
const titleLefts = [104, 245, 388, 531];

export default function App() {
  return (
    <div style={{ position: 'absolute', left: 0, top: 0, width: 715, height: 713, background: '#fff' }}>
      {titles.map((t, i) => (
        <div
          key={t}
          style={{
            position: 'absolute',
            left: titleLefts[i],
            top: 10,
            fontFamily: arial,
            fontWeight: 'bold',
            fontSize: 15.4,
            wordSpacing: -1,
            color: '#1c1c1c',
            whiteSpace: 'nowrap',
          }}
        >
          {t}
        </div>
      ))}
      {rowLabels.map((t, i) => (
        <div
          key={t}
          style={{
            position: 'absolute',
            left: 25,
            top: rowLabelCenters[i],
            transform: 'translate(-50%,-50%) rotate(-90deg)',
            fontFamily: '"Open Sans", sans-serif',
            fontWeight: 'bold',
            fontSize: 21,
            color: '#000',
            whiteSpace: 'nowrap',
          }}
        >
          {t}
        </div>
      ))}
      {rowTops.map((_, r) =>
        colLefts.map((_, c) => <Panel key={`${r}-${c}`} row={r} col={c} />)
      )}
      {rowTops.map((_, r) => (
        <Colorbar key={r} row={r} />
      ))}
    </div>
  );
}
